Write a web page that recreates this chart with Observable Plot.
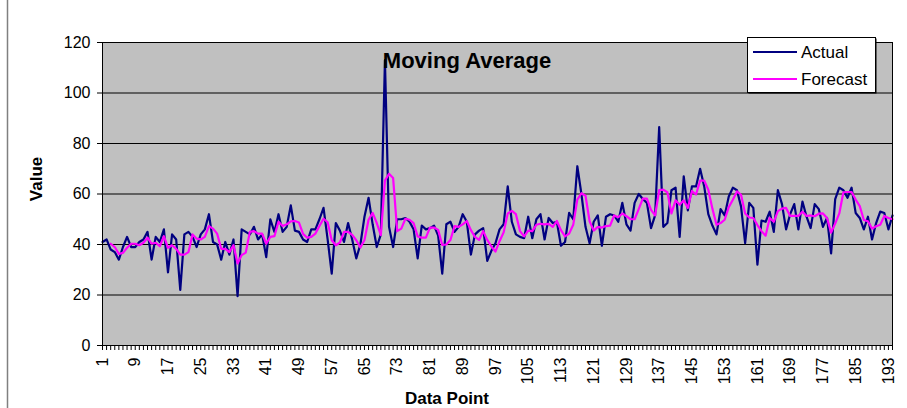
<!DOCTYPE html>
<html><head><meta charset="utf-8">
<script src="https://cdn.jsdelivr.net/npm/d3@7"></script>
<script src="https://cdn.jsdelivr.net/npm/@observablehq/plot@0.6"></script>
<style>
html,body{margin:0;padding:0;background:#fff;}
#chart{width:907px;height:408px;overflow:hidden;}
</style></head><body><div id="chart"></div>
<script>
const chartTitle = "Moving Average";
const xTitle = "Data Point";
const yTitle = "Value";
const seriesNames = ["Actual", "Forecast"];
const seriesColors = ["#000080", "#FF00FF"];
const xTickLabels = [1, 9, 17, 25, 33, 41, 49, 57, 65, 73, 81, 89, 97, 105, 113, 121, 129, 137, 145, 153, 161, 169, 177, 185, 193];
const yTicks = [0, 20, 40, 60, 80, 100, 120];

const actual = [
 41,42,38,37,34,39,43,39,39,41,
 42,45,34,43,41,46,29,44,42,22,
 44,45,43,39,44,46,52,41,40,34,
 41,36,42,19.5,46,45,44,47,42,44,
 35,50,45,52,45,47,55.5,45.5,45,42,
 41,46,46,50,54.5,42,28.5,48.5,45.5,41,
 48.5,42,34.5,40,51,58.5,48,39,44,113,
 47,39,50,50,50.5,49,46,34.5,47.5,46,
 46.5,47.5,43.5,28.5,48,49,45,47,52,49,
 36,44,45.5,46.5,33.5,37.5,40.5,46,48,63,
 49,44,43,42.5,51,42.5,50,52,42,50.5,
 48.5,49,39.5,41,52.5,50,71,60,47,40.5,
 49,51.5,39.5,51,52,51.5,49,56.5,48,45.5,
 56.5,60,58,56.5,46.5,51.5,86.5,47,48.5,61.5,
 62.5,43,67,53.5,63,63,70,63,52,47.5,
 44,54,51.5,59,62.5,61.5,55,40.5,56.5,54.5,
 32,49.5,49,53,45,61.5,56,46,52,56,
 46,57,51,46.5,56,54,47,50.5,36.5,58,
 62.5,61.5,58.5,62.5,52.5,50.5,46,51,42,48.5,
 53,52.5,46,51.5
];

const forecast = [
 null,null,40.3,39.0,36.3,36.7,38.7,40.3,40.3,39.7,
 40.7,42.7,40.3,40.7,39.3,43.3,38.7,39.7,38.3,36.0,
 36.0,37.0,44.0,42.3,42.0,43.0,47.3,46.3,44.3,38.3,
 38.3,37.0,39.7,32.5,35.8,36.8,45.0,45.3,44.3,44.3,
 40.3,43.0,43.3,49.0,47.3,48.0,49.2,49.3,48.7,44.2,
 42.7,43.0,44.3,47.3,50.2,48.8,41.7,39.7,40.8,45.0,
 45.0,43.8,41.7,38.8,41.8,49.8,52.5,48.5,43.7,65.3,
 68.0,66.3,45.3,46.3,50.2,49.8,48.5,43.2,42.7,42.7,
 46.7,46.7,45.8,39.8,40.0,41.8,47.3,47.0,48.0,49.3,
 45.7,43.0,41.8,45.3,41.8,39.2,37.2,41.3,44.8,52.3,
 53.3,52.0,45.3,43.2,45.5,45.3,47.8,48.2,48.0,48.2,
 47.0,49.3,45.7,43.2,44.3,47.8,57.8,60.3,59.3,49.2,
 45.5,47.0,46.7,47.3,47.5,51.5,50.8,52.3,51.2,50.0,
 50.0,54.0,58.2,58.2,53.7,51.5,61.5,61.7,60.7,52.3,
 57.5,55.7,57.5,54.5,61.2,59.8,65.3,65.3,61.7,54.2,
 47.8,48.5,49.8,54.8,57.7,61.0,59.7,52.3,50.7,50.5,
 47.7,45.3,43.5,50.5,49.0,53.2,54.2,54.5,51.3,51.3,
 51.3,53.0,51.3,51.5,51.2,52.2,52.3,50.5,44.7,48.3,
 52.3,60.7,60.8,60.8,57.8,55.2,49.7,49.2,46.3,47.2,
 47.8,51.3,50.5,50.0
];

const points = actual.map((_, i) => i + 1);
const rows = points.map((p, i) => ({point: p, actual: actual[i], forecast: forecast[i]}));

const font = "'Liberation Sans', Arial, sans-serif";

const chart = Plot.plot({
  width: 907,
  height: 408,
  marginLeft: 102,
  marginRight: 15,
  marginTop: 42,
  marginBottom: 63,
  style: {fontFamily: font, fontSize: "16px", color: "#000", background: "transparent", overflow: "visible"},
  x: {domain: [1, points.length], label: null},
  y: {domain: [0, 120], label: null},
  marks: [
    Plot.frame({fill: "#C0C0C0"}),
    Plot.gridY(yTicks.slice(1, -1), {stroke: "#000", strokeOpacity: 1, strokeWidth: 1}),
    Plot.axisY(yTicks, {tickSize: 5, tickPadding: 7, fontSize: 16, label: null, stroke: "#000"}),
    Plot.axisX(points, {tickSize: 5, tickFormat: () => "", label: null, stroke: "#000"}),
    Plot.axisX(xTickLabels, {tickSize: 0, tickRotate: -90, tickPadding: 12, fontSize: 16, label: null}),
    Plot.line(rows, {x: "point", y: "actual", stroke: seriesColors[0], strokeWidth: 2.2}),
    Plot.line(rows, {x: "point", y: "forecast", stroke: seriesColors[1], strokeWidth: 2.2}),
    Plot.frame({stroke: "#000", strokeWidth: 1})
  ]
});

document.getElementById("chart").appendChild(chart);

const svg = d3.select(chart);

// outer chart-area border (left edge visible)
svg.append("line").attr("x1", 7.5).attr("x2", 7.5).attr("y1", 0).attr("y2", 408)
  .attr("stroke", "#808080").attr("stroke-width", 1.5);

// title
svg.append("text").attr("x", 467).attr("y", 68).attr("text-anchor", "middle")
  .attr("font-family", font).attr("font-weight", "bold").attr("font-size", 22).text(chartTitle);

// axis titles
svg.append("text").attr("transform", "translate(42,179) rotate(-90)").attr("text-anchor", "middle")
  .attr("font-family", font).attr("font-weight", "bold").attr("font-size", 17).text(yTitle);
svg.append("text").attr("x", 447).attr("y", 404).attr("text-anchor", "middle")
  .attr("font-family", font).attr("font-weight", "bold").attr("font-size", 17).text(xTitle);

// legend
const lg = svg.append("g").attr("transform", "translate(747,37)");
lg.append("rect").attr("x", 1.5).attr("y", 1.5).attr("width", 128).attr("height", 55).attr("fill", "#000");
lg.append("rect").attr("x", 0.5).attr("y", 0.5).attr("width", 128).attr("height", 55).attr("fill", "#fff").attr("stroke", "#000");
seriesNames.forEach((name, i) => {
  const yy = 15 + i * 27;
  lg.append("line").attr("x1", 6).attr("x2", 50).attr("y1", yy).attr("y2", yy)
    .attr("stroke", seriesColors[i]).attr("stroke-width", 2.2);
  lg.append("text").attr("x", 54).attr("y", yy + 6).attr("text-anchor", "start")
    .attr("font-family", font).attr("font-size", 17).text(name);
});
</script>
</body></html>
